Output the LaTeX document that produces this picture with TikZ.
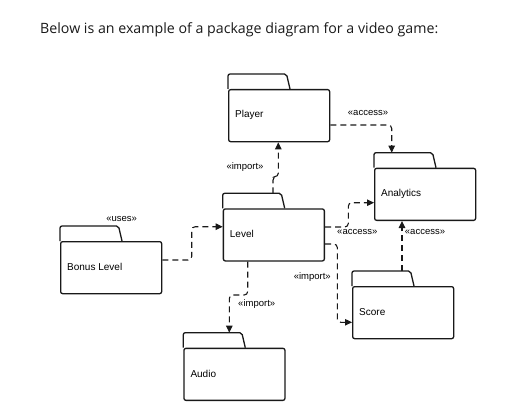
\documentclass[tikz,border=0pt]{standalone}
\usepackage{fontspec}
\setmainfont{Liberation Sans}
\newfontfamily\titlefont{Open Sans}
\usetikzlibrary{arrows.meta,calc}
\tikzset{
  pkgbody/.style={draw=black!90, line width=1.3pt, rounded corners=2pt, minimum width=101pt, minimum height=52pt, anchor=north west, inner sep=0pt},
  pkgtab/.style={draw=black!90, line width=1.3pt, rounded corners=2pt},
  pkglabel/.style={anchor=west, inner sep=0pt, font=\fontsize{10}{12}\selectfont, text=black},
  stereo/.style={inner sep=0pt, font=\fontsize{9.5}{11}\selectfont, text=black},
  dep/.style={draw=black!90, line width=1.1pt, dash pattern=on 6pt off 4pt, rounded corners=3.5pt, -{Triangle[length=7pt,width=6.5pt]}}
}
\newcommand{\mypkg}[4]{%
  \node[pkgbody] (#1) at (#2,#3) {};
  \draw[pkgtab] (#1.north west) -- ++(0,-15) coordinate (#1t) -- ++(58.5,0) -- ++(3.5,15);
  \node[pkglabel] at ($(#1.west)+(7,-0.8)$) {#4};
}
\begin{document}
\begin{tikzpicture}[x=1pt,y=-1pt]
\useasboundingbox (0,0) rectangle (519,417);
\node[anchor=base west, inner sep=0pt, font=\titlefont\fontsize{14.2}{17}\selectfont, text=black!90] (title) at (40,33.3) {Below is an example of a package diagram for a video game:};

\mypkg{P}{228}{89}{Player}
\mypkg{A}{374}{167.7}{Analytics}
\mypkg{L}{222.7}{208.3}{Level}
\mypkg{B}{60}{241}{Bonus Level}
\mypkg{S}{352}{286}{Score}
\mypkg{Au}{183.3}{347.7}{Audio}

% Level -> Player
\draw[dep] (273,0 |- Lt) -- (273,176.7) -- (278.3,176.7) -- (278.3,0 |- P.south);
\node[stereo] (s1) at (245,166.7) {«import»};
% Player -> Analytics
\draw[dep] (P.east |- 0,125) -- (391.7,125) -- (391.7,0 |- At);
\node[stereo] (s2) at (368,112.7) {«access»};
% Bonus -> Level
\draw[dep] (B.east |- 0,260) -- (191.7,260) -- (191.7,226.7) -- (L.west |- 0,226.7);
\node[stereo] (s3) at (121.7,219) {«uses»};
% Level -> Analytics
\draw[dep] (L.east |- 0,227) -- (348.3,227) -- (348.3,202.7) -- (A.west |- 0,202.7);
\node[stereo] (s4) at (357.3,231.7) {«access»};
% Score -> Analytics
\draw[dep] (402,0 |- St) -- (402,0 |- A.south);
\node[stereo] (s5) at (425,231.7) {«access»};
% Level -> Score
\draw[dep] (L.east |- 0,244) -- (337.3,244) -- (337.3,322.3) -- (S.west |- 0,322.3);
\node[stereo] (s6) at (312.3,276.7) {«import»};
% Level -> Audio
\draw[dep] (247.7,0 |- L.south) -- (247.7,295) -- (229.3,295) -- (229.3,0 |- Aut);
\node[stereo] (s7) at (256.7,304.3) {«import»};
\end{tikzpicture}
\end{document}
